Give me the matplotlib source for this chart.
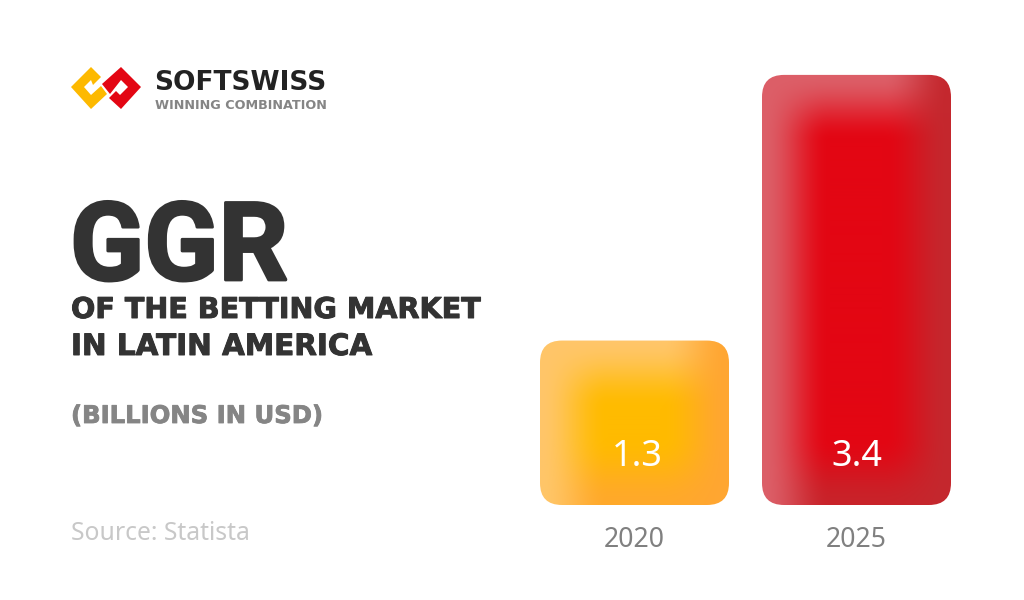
import numpy as np
import matplotlib
matplotlib.use("Agg")
import matplotlib.pyplot as plt
import matplotlib.patheffects as pe
from matplotlib.patches import FancyBboxPatch, Polygon
from matplotlib.transforms import IdentityTransform

W, H = 1024, 600
years = ["2020", "2025"]
values = [1.3, 3.4]
value_labels = ["1.3", "3.4"]
title_big = "GGR"
title_lines = ["OF THE BETTING MARKET", "IN LATIN AMERICA"]
unit = "(BILLIONS IN USD)"
source = "Source: Statista"
base_cols = [(255, 187, 0), (227, 6, 19)]
lt_cols = [(255, 198, 105), (220, 95, 104)]
dk_cols = [(255, 166, 50), (196, 40, 46)]

FONT = "Noto Sans"
BOLD = "DejaVu Sans"
fig = plt.figure(figsize=(W/100, H/100), dpi=100, facecolor="white")

def px_axes(l, t, r, b):
    return fig.add_axes([l/W, 1-b/H, (r-l)/W, (b-t)/H])

def T(x, y, s, stroke=0, **kw):
    kw.setdefault("family", FONT)
    t = fig.text(x/W, 1-y/H, s, va="baseline", **kw)
    if stroke:
        t.set_path_effects([pe.withStroke(linewidth=stroke, foreground=kw["color"])])

ax = px_axes(523.5, 45, 967.5, 505)
ax.set_xlim(-0.5, 1.5)
ax.set_ylim(0, 460/126.5)
ax.patch.set_alpha(0)
for s in ax.spines.values():
    s.set_visible(False)
ax.set_yticks([])
ax.set_xticks(range(len(years)), years)
ax.tick_params(axis="x", length=0, pad=14.8, labelsize=19.2, labelcolor="#808080")
for l in ax.get_xticklabels():
    l.set_family(FONT)

bars = ax.bar(range(len(values)), values, width=189/222, alpha=0)
fig.canvas.draw()
for b, bc, lc, dc in zip(bars, base_cols, lt_cols, dk_cols):
    x0, y0, w, h = b.get_x(), b.get_y(), b.get_width(), b.get_height()
    (px0, py0), (px1, py1) = ax.transData.transform([(x0, y0), (x0+w, y0+h)])
    n_x, n_y = int(px1-px0), int(py1-py0)
    X, Y = np.meshgrid(np.arange(n_x)+.5, np.arange(n_y)+.5)
    def ss(d, f=68.0):
        u = np.clip(1-d/f, 0, 1)
        return u*u*(3-2*u)
    el, et, er, eb = ss(X), ss(Y), ss(n_x-X), ss(n_y-Y)*0.85
    lt = 1-(1-el)*(1-et*(1-er))
    dk = 1-(1-er)*(1-eb*(1-el))
    s = np.maximum(lt+dk, 1)
    wl, wd = lt/s, dk/s
    img = np.zeros((n_y, n_x, 3))
    for i in range(3):
        img[..., i] = (bc[i]*(1-wl-wd) + lc[i]*wl + dc[i]*wd)/255
    r = 22
    clip = FancyBboxPatch((px0+r, py0+r), px1-px0-2*r, py1-py0-2*r,
                          boxstyle=f"round,pad={r},rounding_size={r}",
                          transform=IdentityTransform(), fc="none", ec="none")
    fig.add_artist(clip)
    im = ax.imshow(img, extent=(x0, x0+w, y0, y0+h), aspect="auto", zorder=2, interpolation="bilinear")
    im.set_clip_path(clip)
ax.set_xlim(-0.5, 1.5)
ax.set_ylim(0, 460/126.5)

for i, t in enumerate(value_labels):
    ax.annotate(t, (i, 0), xytext=(3 if i == 0 else 0, 39), textcoords="offset pixels", ha="center", va="baseline",
                color="white", fontsize=26, family=FONT, zorder=3)

DARK = "#333333"
T(70, 280, title_big, fontsize=78.5, fontweight="bold", color=DARK, family="Roboto", stroke=2)
T(71, 318, title_lines[0], fontsize=20.6, fontweight="bold", color=DARK, family=BOLD, stroke=0.7)
T(71, 355, title_lines[1], fontsize=21.2, fontweight="bold", color=DARK, family=BOLD, stroke=0.7)
T(71, 423, unit, fontsize=17.5, fontweight="bold", color="#858585", family=BOLD, stroke=0.6)
T(71, 540, source, fontsize=17.8, color="#c8c8c8")
T(154, 90, "SOFTSWISS", fontsize=19, fontweight="bold", color="#222222", family=BOLD)
T(155, 109, "WINNING COMBINATION", fontsize=9.2, fontweight="bold", color="#858585", family=BOLD)

def poly(pts, c):
    fig.add_artist(Polygon([(x/W, 1-y/H) for x, y in pts], closed=True, fc=c, ec="none", transform=fig.transFigure))
poly([(71, 87), (91, 67), (101, 77), (93, 85), (91, 80), (84, 87), (91, 95), (101, 86), (107, 94), (91, 109)], "#FDB900")
poly([(141, 87), (121, 67), (102, 84), (110, 94), (121, 80), (128, 87), (120, 95), (116, 91), (109, 98), (121, 109)], "#E30613")

fig.savefig("out.png", dpi=100, facecolor="white")
